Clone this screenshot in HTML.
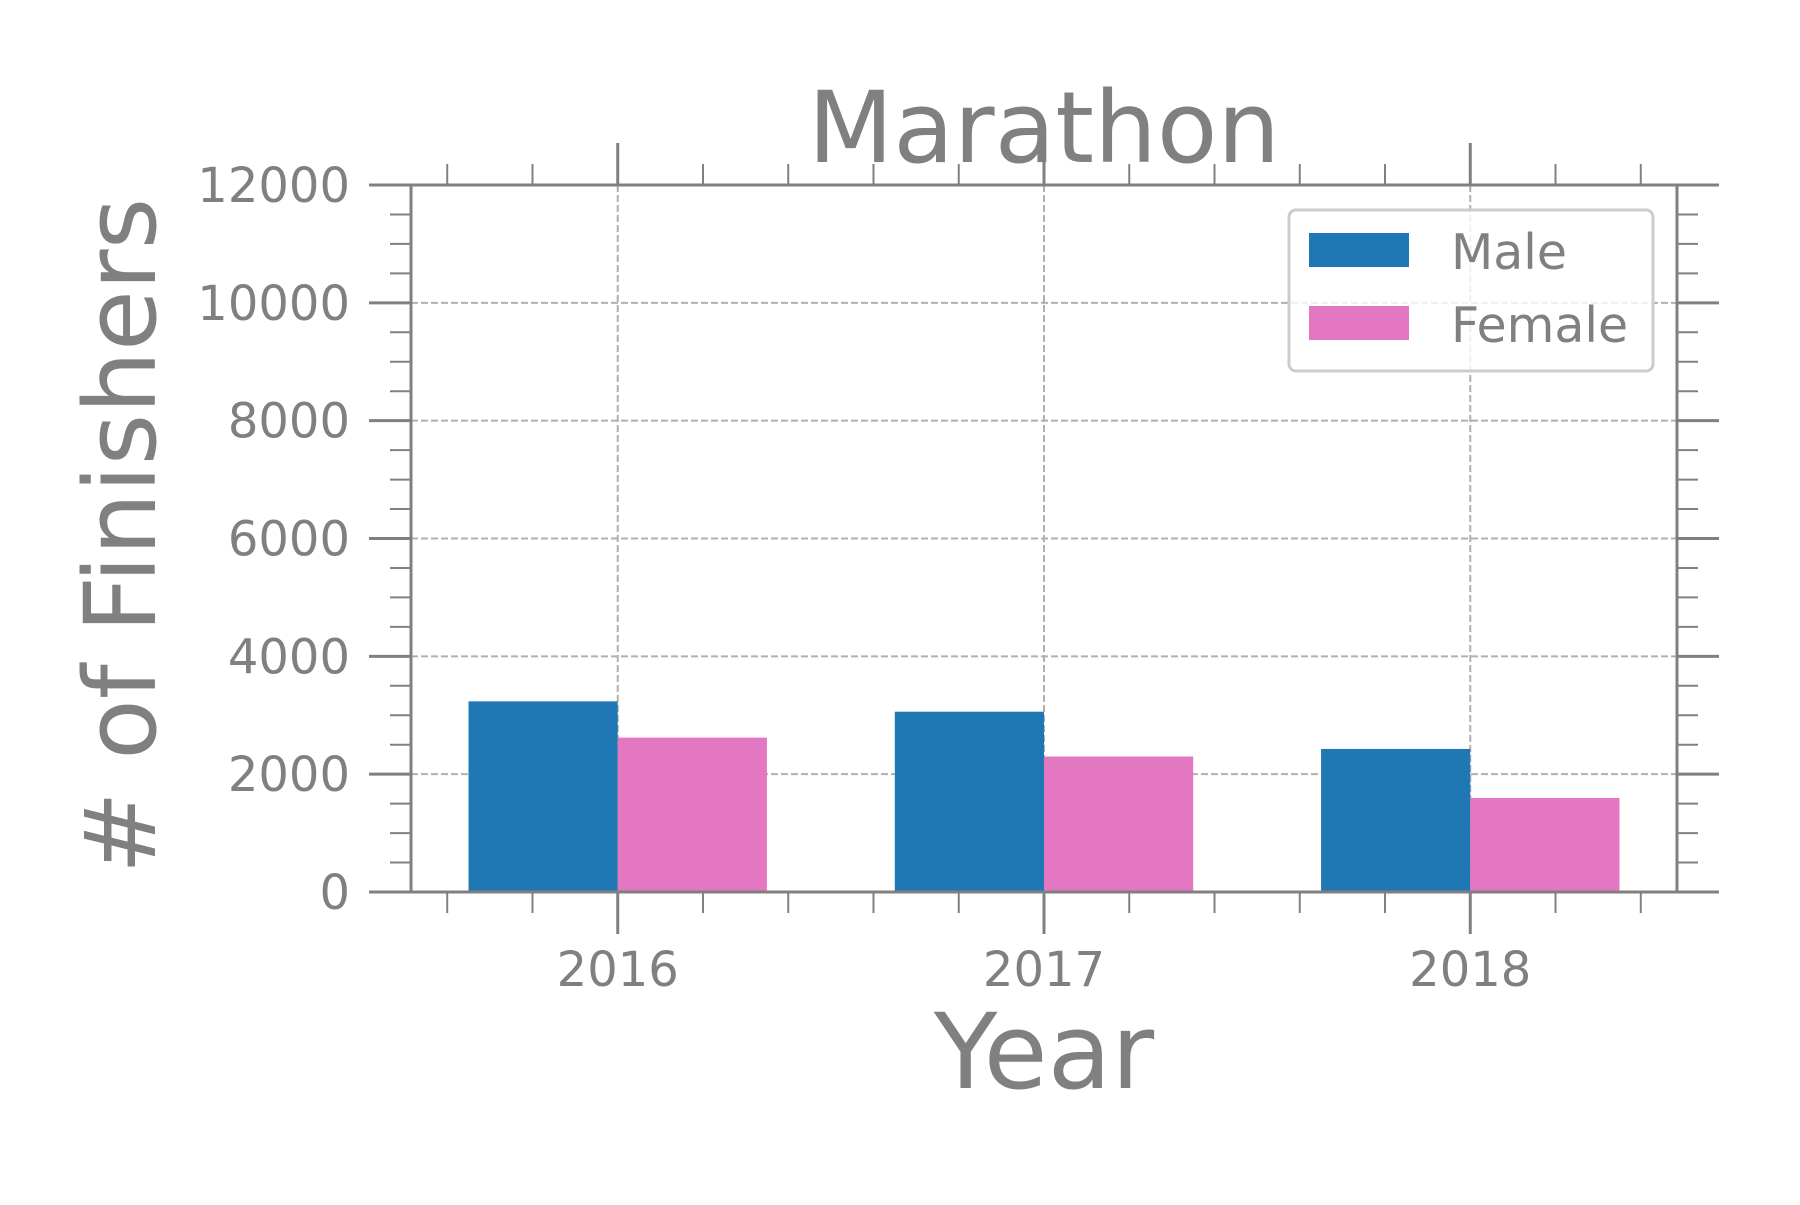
<!DOCTYPE html>
<html><head><meta charset="utf-8"><style>
html,body{margin:0;padding:0;background:#fff;}
svg text{font-family:"DejaVu Sans","Liberation Sans",sans-serif;fill:#808080;}
</style></head><body>
<svg id="chart" width="1800" height="1200" xmlns="http://www.w3.org/2000/svg">
<rect width="1800" height="1200" fill="#fff"/>
<g id="grid"></g>
<g id="bars"></g>
<g id="ticks"></g>
<rect x="411" y="185" width="1266" height="707" fill="none" stroke="#808080" stroke-width="3"/>
<text x="1044" y="162" font-size="99" text-anchor="middle">Marathon</text>
<text x="1044" y="1088" font-size="104" text-anchor="middle">Year</text>
<text transform="translate(155,536) rotate(-90)" font-size="99" text-anchor="middle"># of Finishers</text>
<g>
<rect x="1289" y="210" width="364" height="161" rx="7" fill="#fff" fill-opacity="0.8" stroke="#cccccc" stroke-width="3"/>
<rect x="1309" y="233" width="100" height="34" fill="#1f77b4"/>
<text x="1451" y="269" font-size="49">Male</text>
<rect x="1309" y="306" width="100" height="34" fill="#e377c2"/>
<text x="1451" y="342" font-size="49">Female</text>
</g>
</svg>
<script>
const categories = ["2016","2017","2018"];
const maleValues = [3236, 3060, 2428];
const femaleValues = [2620, 2300, 1596];
const yTicks = [0,2000,4000,6000,8000,10000,12000];
const yTickLabels = ["0","2000","4000","6000","8000","10000","12000"];

const NS="http://www.w3.org/2000/svg";
const L=411,R=1677,T=185,B=892;
const xMin=-0.485,xMax=2.485,yMax=12000;
const xs=v=>L+(v-xMin)/(xMax-xMin)*(R-L);
const ys=v=>B-v/yMax*(B-T);
const W=0.35;
function mk(tag,attrs,parent){const e=document.createElementNS(NS,tag);for(const k in attrs)e.setAttribute(k,attrs[k]);parent.appendChild(e);return e;}
const grid=document.getElementById('grid'),bars=document.getElementById('bars'),ticks=document.getElementById('ticks');
const dash={stroke:"#b0b0b0","stroke-width":2,"stroke-dasharray":"7,3"};
yTicks.forEach((t,i)=>{
  const y=ys(t);
  if(t>0&&t<yMax){const g=mk('line',Object.assign({x1:L,x2:R,y1:y,y2:y},dash),grid);
  
  }
  const a=mk('line',{x1:L-42,x2:L,y1:y,y2:y,stroke:"#808080","stroke-width":3},ticks);
  
  
  const b=mk('line',{x1:R,x2:R+42,y1:y,y2:y,stroke:"#808080","stroke-width":3},ticks);
  
  
  const tx=mk('text',{x:350,y:y+17,"font-size":48,"text-anchor":"end"},ticks);
  tx.textContent=yTickLabels[i];
  
  
});
for(let v=500;v<yMax;v+=500){ if(v%2000===0)continue; const y=ys(v);
  const a=mk('line',{x1:L-21,x2:L,y1:y,y2:y,stroke:"#808080","stroke-width":2},ticks);
  
  
  const b=mk('line',{x1:R,x2:R+21,y1:y,y2:y,stroke:"#808080","stroke-width":2},ticks);
  
  
}
for(let k=-2;k<=12;k++){ if(k%5===0)continue; const x=xs(k*0.2);
  const a=mk('line',{x1:x,x2:x,y1:B,y2:B+21,stroke:"#808080","stroke-width":2},ticks);
  
  
  const b=mk('line',{x1:x,x2:x,y1:T-21,y2:T,stroke:"#808080","stroke-width":2},ticks);
  
  
}
categories.forEach((c,i)=>{
  const x=xs(i);
  const g=mk('line',Object.assign({x1:x,x2:x,y1:T,y2:B},dash),grid);
  
  
  const m=mk('rect',{x:xs(i-W),y:ys(maleValues[i]),width:xs(i)-xs(i-W),height:B-ys(maleValues[i]),fill:"#1f77b4"},bars);
  
  
  const f=mk('rect',{x:xs(i),y:ys(femaleValues[i]),width:xs(i+W)-xs(i),height:B-ys(femaleValues[i]),fill:"#e377c2"},bars);
  
  
  const a=mk('line',{x1:x,x2:x,y1:B,y2:B+42,stroke:"#808080","stroke-width":3},ticks);
  
  
  const b=mk('line',{x1:x,x2:x,y1:T-42,y2:T,stroke:"#808080","stroke-width":3},ticks);
  
  
  const t=mk('text',{x:x,y:986,"font-size":48,"text-anchor":"middle"},ticks);
  t.textContent=c;
  
  
});
</script>
</body></html>
